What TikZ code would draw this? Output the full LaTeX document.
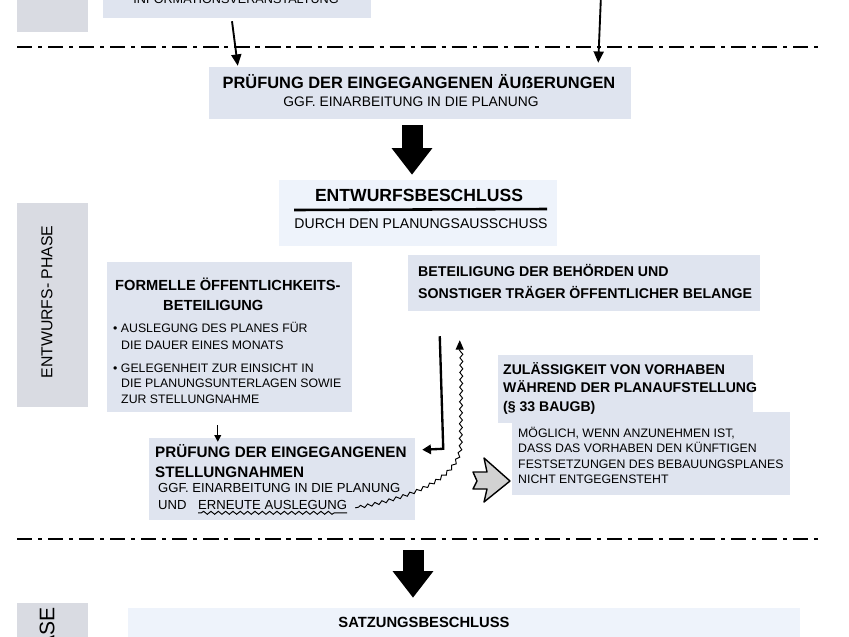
\documentclass[tikz,border=0pt]{standalone}
\usepackage{fontspec}
\setmainfont{Liberation Sans}
\usetikzlibrary{arrows.meta,calc,fit,decorations.pathmorphing}
\definecolor{boxblue}{RGB}{223,228,239}
\definecolor{paleblue}{RGB}{238,243,251}
\definecolor{phasegray}{RGB}{217,219,226}
\begin{document}
\begin{tikzpicture}[x=0.03cm,y=-0.03cm,inner sep=0mm]
\tikzstyle{box}=[rectangle,fill=boxblue,inner sep=0mm]
\tikzstyle{palebox}=[box,fill=paleblue]
\tikzstyle{phasebox}=[box,fill=phasegray]
\tikzstyle{head}=[font=\bfseries\fontsize{12}{15.4}\selectfont,align=left,anchor=base west]
\tikzstyle{body}=[font=\fontsize{10.5}{13.2}\selectfont,align=left,anchor=base west]
\tikzstyle{arr}=[-{Triangle[length=3.4mm,width=3mm]},line width=1.6pt]
\tikzstyle{arrsmall}=[-{Triangle[length=2mm,width=2mm]},line width=1.2pt]
\tikzstyle{bigarr}=[-{Triangle[length=8mm,width=11.7mm]},line width=6.3mm]
\tikzstyle{phaseline}=[line width=1.6pt,dash pattern=on 13pt off 5pt on 3.5pt off 5pt]
\tikzstyle{wave}=[decorate,decoration={snake,amplitude=0.45mm,segment length=2.2mm,pre length=1mm,post length=3mm}]
\path[use as bounding box,clip] (0,0) rectangle (849,636);
%% Boxes
\node (phase0)[phasebox,fit={(17,-40) (88,32)}] {};
\node (info)[box,fit={(103,-30) (371,18)}] {};
\node (p1)[box,fit={(209,67) (631,119)}] {};
\node (eb)[palebox,fit={(279,180) (557,246)}] {};
\node (phase1)[phasebox,fit={(17,203) (88,407)}] {};
\node (foeb)[box,fit={(107,262) (352,412)}] {};
\node (bt)[box,fit={(408,255) (760,311)}] {};
\node (zv)[box,fit={(498,355) (753,423)}] {};
\node (zv2)[box,fit={(512,412) (790,495)}] {};
\node (sn)[box,fit={(149,438) (415,520)}] {};
\node (phase2)[phasebox,fit={(17,603) (88,680)}] {};
\node (sb)[palebox,fit={(128,608) (800,680)}] {};
%% Texte (bei mehrzeiligen Knoten liegt base auf der letzten Zeile)
\node at (236,-0.5) (infotext)[font=\fontsize{10.8}{13}\selectfont] {INFORMATIONSVERANSTALTUNG};
\node at (419,82) (p1title)[font=\bfseries\fontsize{14}{17}\selectfont] {PRÜFUNG DER EINGEGANGENEN ÄUẞERUNGEN};
\node at (411,102) (p1sub)[font=\fontsize{11.8}{14}\selectfont] {GGF. EINARBEITUNG IN DIE PLANUNG};
\node at (419,195) (ebtitle)[font=\bfseries\fontsize{15}{18}\selectfont] {ENTWURFSBESCHLUSS};
\draw [line width=2.2pt] (294,210) -- (547,209);
\node at (421,224) (ebsub)[font=\fontsize{12}{14}\selectfont] {DURCH DEN PLANUNGSAUSSCHUSS};
\node at (47,302) (phase1text)[rotate=90,font=\fontsize{13.5}{16}\selectfont] {ENTWURFS- PHASE};
\node at (47,607) (phase2text)[rotate=90,anchor=east,font=\fontsize{18}{20}\selectfont] {PHASE};
\node at (115,290) (foebA)[head,font=\bfseries\fontsize{12.5}{15}\selectfont] {FORMELLE ÖFFENTLICHKEITS-};
\node at (163,310) (foebB)[head,font=\bfseries\fontsize{12.5}{15}\selectfont] {BETEILIGUNG};
\node at (113,349.4) (bulA)[body,font=\fontsize{10.5}{14.5}\selectfont] {\textbullet\ AUSLEGUNG DES PLANES FÜR\\\hspace*{0.24cm}DIE DAUER EINES MONATS};
\node at (113,403.4) (bulB)[body] {\textbullet\ GELEGENHEIT ZUR EINSICHT IN\\\hspace*{0.24cm}DIE PLANUNGSUNTERLAGEN SOWIE\\\hspace*{0.24cm}ZUR STELLUNGNAHME};
\node at (418,298) (bttext)[head,font=\bfseries\fontsize{12.1}{18}\selectfont] {BETEILIGUNG DER BEHÖRDEN UND\\SONSTIGER TRÄGER ÖFFENTLICHER BELANGE};
\node at (503,411) (zvtitle)[head] {ZULÄSSIGKEIT VON VORHABEN\\WÄHREND DER PLANAUFSTELLUNG\\(§ 33 BAUGB)};
\node at (518,483.4) (zvtext)[body,font=\fontsize{10.5}{13}\selectfont] {MÖGLICH, WENN ANZUNEHMEN IST,\\DASS DAS VORHABEN DEN KÜNFTIGEN\\FESTSETZUNGEN DES BEBAUUNGSPLANES\\NICHT ENTGEGENSTEHT};
\node at (155,477.2) (sntitle)[head,font=\bfseries\fontsize{13}{17}\selectfont] {PRÜFUNG DER EINGEGANGENEN\\STELLUNGNAHMEN};
\node at (158,492.8) (snsub)[body,font=\fontsize{11.2}{14}\selectfont] {GGF. EINARBEITUNG IN DIE PLANUNG};
\node at (158,509.8) (snund)[body,font=\fontsize{11.2}{14}\selectfont] {UND};
\node at (198,509.8) (erneut)[body,font=\fontsize{11.2}{14}\selectfont] {ERNEUTE AUSLEGUNG};
\node at (424,622) (sbtitle)[font=\bfseries\fontsize{12.6}{15}\selectfont] {SATZUNGSBESCHLUSS};
%% Phasengrenzen
\draw [phaseline] (17,47) -- (822,47);
\draw [phaseline] (17,539) -- (822,539);
%% Pfeile
\coordinate (topsrc) at (601,-5);
\coordinate (satzin) at (413,550);
\draw [arr] ($(info.south)+(-5,3)$) -- ($(p1.north west)+(29,-1)$);
\draw [arr] (topsrc) -- ($(p1.north east)+(-33,-4)$);
\draw [bigarr] ($(p1.south)+(-8,6)$) -- ($(eb.north)+(-6,-5)$);
\draw [bigarr] (satzin) -- ($(sb.north)+(-51,-10)$);
\draw [arrsmall] ($(foeb.south west)+(111,13)$) -- ($(sn.north west)+(69,4)$);
\draw [arr,line width=2pt,-{Triangle[length=2.6mm,width=2.8mm]}] ($(bt.south west)+(32,25)$) -- ($(sn.north east)+(28,11)$) -- ($(sn.north east)+(7,12)$);
\draw [wave,line width=0.8pt] ($(erneut.base west)+(0,3)$) -- ($(erneut.base east)+(0,3)$);
\draw [wave,line width=0.8pt,-{Triangle[length=2.8mm,width=2.4mm]}] ($(erneut.base east)+(8,-2)$) .. controls (400,500) and (458,482) .. (459,445) -- ($(bt.south west)+(52,29)$);
\draw [fill=gray!35,line width=1.2pt,line join=round] (473,472) -- (487,472) -- (484,458) -- (510,481) -- (484,502) -- (487,489) -- (473,489) -- (477,481) -- cycle;
\end{tikzpicture}
\end{document}
